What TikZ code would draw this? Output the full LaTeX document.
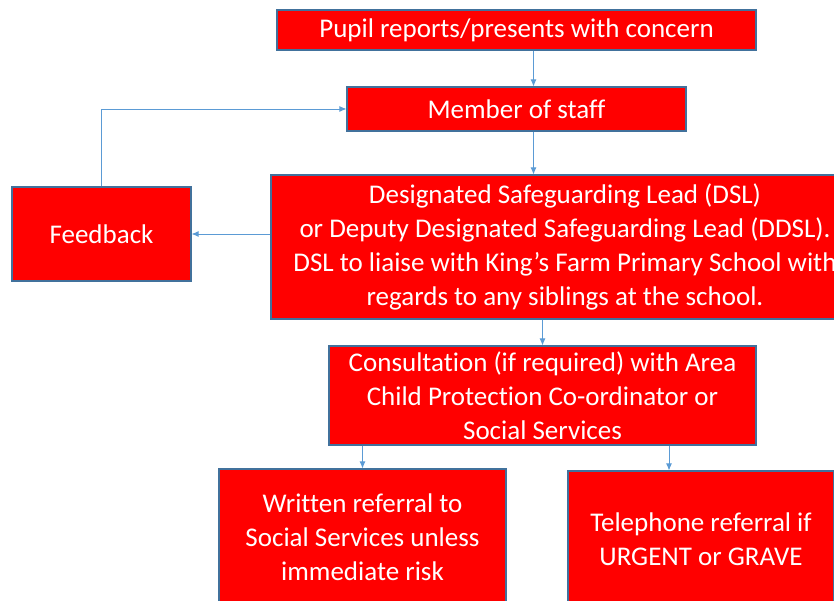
\documentclass[tikz,border=0pt]{standalone}
\usepackage{fontspec}
\setmainfont{Carlito}[Ligatures=NoCommon]
\usetikzlibrary{positioning,arrows.meta}
\definecolor{boxred}{HTML}{FF0000}
\definecolor{boxedge}{HTML}{41719C}
\definecolor{linkblue}{HTML}{5B9BD5}
\tikzstyle{redbox} = [rectangle, fill=boxred, draw=boxedge, line width=1.2pt, text=white, align=center, inner sep=0pt, font=\fontsize{27}{34}\selectfont]
\tikzstyle{link} = [draw=linkblue, line width=0.8pt, -{Latex[length=7pt,width=6pt]}]

\begin{document}
\begin{tikzpicture}[x=1pt,y=1pt]
			\useasboundingbox (0,0) rectangle (834,-601);
			\node (pupil) [redbox, minimum width=479, minimum height=40] at (516.5,-30) {Pupil reports/presents with concern};
			\node (staff) [redbox, minimum width=339, minimum height=44] at (516.5,-109) {Member of staff};
			\node (dsl) [redbox, minimum width=588, minimum height=144] at (565,-247) {Designated Safeguarding Lead (DSL)\\ or Deputy Designated Safeguarding Lead (DDSL).\\ DSL to liaise with King’s Farm Primary School with\\ regards to any siblings at the school.};
			\node (feedback) [redbox, minimum width=179, minimum height=94] at (101.5,-234) {Feedback};
			\node (consult) [redbox, minimum width=427, minimum height=99] at (542.5,-395.5) {Consultation (if required) with Area\\ Child Protection Co-ordinator or\\ Social Services};
			\node (written) [redbox, minimum width=287, minimum height=136] at (362.5,-537) {Written referral to\\ Social Services unless\\ immediate risk};
			\node (phone) [redbox, minimum width=266, minimum height=136] at (701,-539) {Telephone referral if\\ URGENT or GRAVE};
			%-----------------------------------------------
			%-----------------------------------------------
			\draw [link] ([xshift=17]pupil.south) -- ([xshift=17]staff.north);
			\draw [link] ([xshift=17]staff.south) -- ([xshift=17]staff.south |- dsl.north);
			\draw [link] (dsl.west |- feedback.east) -- (feedback.east);
			\draw [link] (feedback.north) -- (feedback.north |- staff.west) -- (staff.west);
			\draw [link] (consult.north |- dsl.south) -- (consult.north);
			\draw [link] (written.north |- consult.south) -- (written.north);
			\draw [link] ([xshift=126.5]consult.south) -- ([xshift=126.5]consult.south |- phone.north);
\end{tikzpicture}
\end{document}
